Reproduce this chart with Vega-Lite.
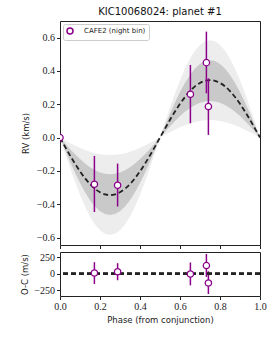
{
  "$schema": "https://vega.github.io/schema/vega-lite/v6.json",
  "background": "white",
  "padding": {"left": 20, "top": 6, "right": 5, "bottom": 5},
  "bounds": "flush",
  "spacing": 7,
  "config": {
    "view": {"stroke": "#222", "strokeWidth": 1},
    "axis": {"domain": false, "grid": false, "tickColor": "#222", "tickSize": 3.5, "labelFont": "Liberation Serif", "labelFontSize": 10, "labelColor": "#222", "labelPadding": 2, "titleFont": "DejaVu Sans", "titleFontSize": 8.5, "titleFontWeight": "normal", "titleColor": "#222"},
    "legend": {"labelFont": "DejaVu Sans", "labelFontSize": 7, "labelColor": "#222"}
  },
  "datasets": {
    "model": [
      {"p": 0.0, "m": 0, "a": 0, "b": 0, "c": 0, "d": 0},
      {"p": 0.025, "m": -0.054, "a": -0.0727, "b": -0.0344, "c": -0.0915, "d": -0.0164},
      {"p": 0.05, "m": -0.1066, "a": -0.1437, "b": -0.068, "c": -0.1808, "d": -0.0324},
      {"p": 0.075, "m": -0.1566, "a": -0.2111, "b": -0.0999, "c": -0.2656, "d": -0.0477},
      {"p": 0.1, "m": -0.2028, "a": -0.2733, "b": -0.1293, "c": -0.3439, "d": -0.0617},
      {"p": 0.125, "m": -0.2439, "a": -0.3288, "b": -0.1556, "c": -0.4137, "d": -0.0742},
      {"p": 0.15, "m": -0.2791, "a": -0.3762, "b": -0.178, "c": -0.4733, "d": -0.0849},
      {"p": 0.175, "m": -0.3074, "a": -0.4143, "b": -0.196, "c": -0.5212, "d": -0.0936},
      {"p": 0.2, "m": -0.3281, "a": -0.4423, "b": -0.2092, "c": -0.5564, "d": -0.0999},
      {"p": 0.225, "m": -0.3408, "a": -0.4593, "b": -0.2173, "c": -0.5778, "d": -0.1037},
      {"p": 0.25, "m": -0.345, "a": -0.465, "b": -0.22, "c": -0.585, "d": -0.105},
      {"p": 0.275, "m": -0.3408, "a": -0.4593, "b": -0.2173, "c": -0.5778, "d": -0.1037},
      {"p": 0.3, "m": -0.3281, "a": -0.4423, "b": -0.2092, "c": -0.5564, "d": -0.0999},
      {"p": 0.325, "m": -0.3074, "a": -0.4143, "b": -0.196, "c": -0.5212, "d": -0.0936},
      {"p": 0.35, "m": -0.2791, "a": -0.3762, "b": -0.178, "c": -0.4733, "d": -0.0849},
      {"p": 0.375, "m": -0.2439, "a": -0.3288, "b": -0.1556, "c": -0.4137, "d": -0.0742},
      {"p": 0.4, "m": -0.2028, "a": -0.2733, "b": -0.1293, "c": -0.3439, "d": -0.0617},
      {"p": 0.425, "m": -0.1566, "a": -0.2111, "b": -0.0999, "c": -0.2656, "d": -0.0477},
      {"p": 0.45, "m": -0.1066, "a": -0.1437, "b": -0.068, "c": -0.1808, "d": -0.0324},
      {"p": 0.475, "m": -0.054, "a": -0.0727, "b": -0.0344, "c": -0.0915, "d": -0.0164},
      {"p": 0.5, "m": 0, "a": 0, "b": 0, "c": 0, "d": 0},
      {"p": 0.525, "m": 0.054, "a": 0.0727, "b": 0.0344, "c": 0.0915, "d": 0.0164},
      {"p": 0.55, "m": 0.1066, "a": 0.1437, "b": 0.068, "c": 0.1808, "d": 0.0324},
      {"p": 0.575, "m": 0.1566, "a": 0.2111, "b": 0.0999, "c": 0.2656, "d": 0.0477},
      {"p": 0.6, "m": 0.2028, "a": 0.2733, "b": 0.1293, "c": 0.3439, "d": 0.0617},
      {"p": 0.625, "m": 0.2439, "a": 0.3288, "b": 0.1556, "c": 0.4137, "d": 0.0742},
      {"p": 0.65, "m": 0.2791, "a": 0.3762, "b": 0.178, "c": 0.4733, "d": 0.0849},
      {"p": 0.675, "m": 0.3074, "a": 0.4143, "b": 0.196, "c": 0.5212, "d": 0.0936},
      {"p": 0.7, "m": 0.3281, "a": 0.4423, "b": 0.2092, "c": 0.5564, "d": 0.0999},
      {"p": 0.725, "m": 0.3408, "a": 0.4593, "b": 0.2173, "c": 0.5778, "d": 0.1037},
      {"p": 0.75, "m": 0.345, "a": 0.465, "b": 0.22, "c": 0.585, "d": 0.105},
      {"p": 0.775, "m": 0.3408, "a": 0.4593, "b": 0.2173, "c": 0.5778, "d": 0.1037},
      {"p": 0.8, "m": 0.3281, "a": 0.4423, "b": 0.2092, "c": 0.5564, "d": 0.0999},
      {"p": 0.825, "m": 0.3074, "a": 0.4143, "b": 0.196, "c": 0.5212, "d": 0.0936},
      {"p": 0.85, "m": 0.2791, "a": 0.3762, "b": 0.178, "c": 0.4733, "d": 0.0849},
      {"p": 0.875, "m": 0.2439, "a": 0.3288, "b": 0.1556, "c": 0.4137, "d": 0.0742},
      {"p": 0.9, "m": 0.2028, "a": 0.2733, "b": 0.1293, "c": 0.3439, "d": 0.0617},
      {"p": 0.925, "m": 0.1566, "a": 0.2111, "b": 0.0999, "c": 0.2656, "d": 0.0477},
      {"p": 0.95, "m": 0.1066, "a": 0.1437, "b": 0.068, "c": 0.1808, "d": 0.0324},
      {"p": 0.975, "m": 0.054, "a": 0.0727, "b": 0.0344, "c": 0.0915, "d": 0.0164},
      {"p": 1.0, "m": 0, "a": 0, "b": 0, "c": 0, "d": 0}
    ],
    "obs": [
      {"p": 0.0, "rv": 0.0, "lo": null, "hi": null, "oc": null, "ol": null, "oh": null, "s": "CAFE2 (night bin)"},
      {"p": 0.172, "rv": -0.28, "lo": -0.447, "hi": -0.11, "oc": 10, "ol": -158, "oh": 175, "s": "CAFE2 (night bin)"},
      {"p": 0.288, "rv": -0.286, "lo": -0.414, "hi": -0.156, "oc": 30, "ol": -100, "oh": 160, "s": "CAFE2 (night bin)"},
      {"p": 0.652, "rv": 0.26, "lo": 0.086, "hi": 0.436, "oc": -5, "ol": -178, "oh": 170, "s": "CAFE2 (night bin)"},
      {"p": 0.732, "rv": 0.45, "lo": 0.266, "hi": 0.636, "oc": 123, "ol": -50, "oh": 300, "s": "CAFE2 (night bin)"},
      {"p": 0.742, "rv": 0.186, "lo": 0.016, "hi": 0.356, "oc": -143, "ol": -310, "oh": 37, "s": "CAFE2 (night bin)"}
    ]
  },
  "resolve": {"scale": {"color": "independent"}, "legend": {"color": "independent"}},
  "vconcat": [
    {
      "width": 200,
      "height": 224,
      "title": {"text": "KIC10068024: planet #1", "font": "DejaVu Sans", "fontSize": 10, "fontWeight": "normal", "color": "#111", "frame": "group", "anchor": "middle", "offset": 4},
      "layer": [
        {
          "data": {"name": "model"},
          "mark": {"type": "area", "color": "#ededed", "clip": true},
          "encoding": {
            "x": {"field": "p", "type": "quantitative", "scale": {"domain": [0, 1], "nice": false}, "axis": {"tickCount": 5, "labels": false, "title": null}},
            "y": {"field": "c", "type": "quantitative", "scale": {"domain": [-0.645, 0.7], "nice": false, "zero": false}, "axis": {"tickCount": 7, "format": ".1f", "labelOverlap": false, "title": "RV (km/s)", "titlePadding": 6}},
            "y2": {"field": "d"}
          }
        },
        {
          "data": {"name": "model"},
          "mark": {"type": "area", "color": "#c9c9c9", "clip": true},
          "encoding": {
            "x": {"field": "p", "type": "quantitative"},
            "y": {"field": "a", "type": "quantitative"},
            "y2": {"field": "b"}
          }
        },
        {
          "data": {"name": "model"},
          "mark": {"type": "line", "color": "#222", "strokeWidth": 1.8, "strokeDash": [5, 3], "interpolate": "monotone", "clip": true},
          "encoding": {
            "x": {"field": "p", "type": "quantitative"},
            "y": {"field": "m", "type": "quantitative"}
          }
        },
        {
          "data": {"name": "obs"},
          "mark": {"type": "rule", "color": "#8b008b", "strokeWidth": 1.5, "clip": true},
          "encoding": {
            "x": {"field": "p", "type": "quantitative"},
            "y": {"field": "lo", "type": "quantitative"},
            "y2": {"field": "hi"}
          }
        },
        {
          "data": {"name": "obs"},
          "mark": {"type": "point", "shape": "circle", "filled": false, "fill": "white", "fillOpacity": 1, "opacity": 1, "size": 40, "strokeWidth": 1.3, "clip": true},
          "encoding": {
            "x": {"field": "p", "type": "quantitative"},
            "y": {"field": "rv", "type": "quantitative"},
            "color": {"field": "s", "type": "nominal", "scale": {"range": ["#8b008b"]}, "legend": {"title": null, "orient": "top-left", "offset": 3, "padding": 3, "strokeColor": "#ccc", "fillColor": "white", "cornerRadius": 2, "symbolType": "circle", "symbolSize": 36, "symbolStrokeWidth": 1.5, "symbolFillColor": "white", "labelOffset": 10, "labelFontSize": 7}}
          }
        }
      ]
    },
    {
      "width": 200,
      "height": 44,
      "layer": [
        {
          "data": {"name": "obs"},
          "mark": {"type": "rule", "color": "#8b008b", "strokeWidth": 1.5, "clip": true},
          "encoding": {
            "x": {"field": "p", "type": "quantitative", "scale": {"domain": [0, 1], "nice": false}, "axis": {"tickCount": 5, "format": ".1f", "labelOverlap": false, "labelFlush": false, "title": "Phase (from conjunction)", "titlePadding": 4}},
            "y": {"field": "ol", "type": "quantitative", "scale": {"domain": [-340, 330], "nice": false, "zero": false}, "axis": {"tickCount": 14, "labelOverlap": false, "labelExpr": "datum.value % 250 === 0 ? datum.label : ''", "tickOpacity": {"condition": {"test": "datum.value % 250 === 0", "value": 1}, "value": 0}, "title": "O-C (m/s)", "titlePadding": 4}},
            "y2": {"field": "oh"}
          }
        },
        {
          "data": {"name": "obs"},
          "mark": {"type": "rule", "color": "#222", "strokeWidth": 1.8, "strokeDash": [5, 3]},
          "encoding": {"y": {"datum": 0, "type": "quantitative"}}
        },
        {
          "data": {"name": "obs"},
          "mark": {"type": "point", "shape": "circle", "filled": false, "fill": "white", "fillOpacity": 1, "opacity": 1, "size": 40, "strokeWidth": 1.3, "color": "#8b008b", "clip": true},
          "encoding": {
            "x": {"field": "p", "type": "quantitative"},
            "y": {"field": "oc", "type": "quantitative"}
          }
        }
      ]
    }
  ]
}
